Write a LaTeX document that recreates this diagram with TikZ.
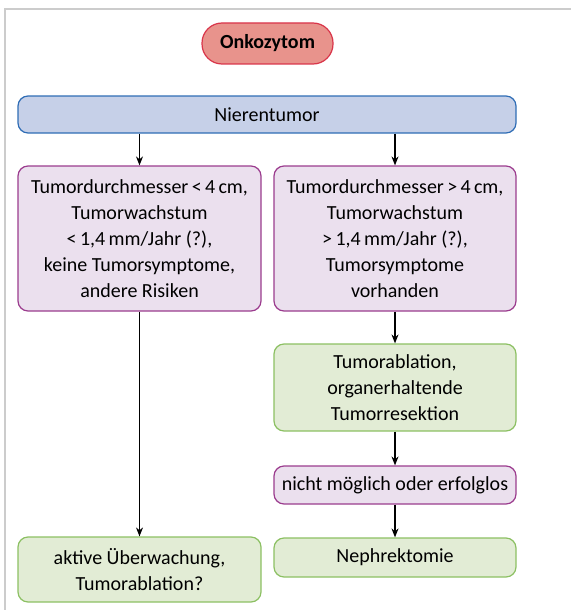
\documentclass[tikz,border=0pt]{standalone}
\usepackage{fontspec}
\setmainfont{Carlito}
\usetikzlibrary{arrows.meta}
\definecolor{rotrand}{HTML}{D9354A}
\definecolor{rotfill}{HTML}{E8938C}
\definecolor{blaurand}{HTML}{2F6DB5}
\definecolor{blaufill}{HTML}{C6D0E8}
\definecolor{lilarand}{HTML}{9B3C8E}
\definecolor{lilafill}{HTML}{EBE0EE}
\definecolor{gruenrand}{HTML}{8CC063}
\definecolor{gruenfill}{HTML}{E2ECD5}
\newcommand{\schrift}[0]{\fontsize{20}{26}\selectfont}
\tikzset{
	kasten/.style={draw, line width=1.2pt, rounded corners=10pt, align=center,
		inner sep=0pt, font=\schrift},
	titel/.style={kasten, draw=rotrand, fill=rotfill, rounded corners=20pt,
		font=\schrift\bfseries},
	blau/.style={kasten, draw=blaurand, fill=blaufill},
	lila/.style={kasten, draw=lilarand, fill=lilafill},
	gruen/.style={kasten, draw=gruenrand, fill=gruenfill},
	pfeil/.style={-{Stealth[length=9pt,width=7pt]}, line width=1.1pt}
}
\newcommand{\feld}[5]{\node[#1, minimum width=#4pt, minimum height=#5pt] (#2) at (#3)}

\begin{document}
\begin{tikzpicture}[x=1pt, y=-1pt]
	\useasboundingbox (0,0) rectangle (570,610);
	\draw[line width=2pt, black!20] (5,640) -- (5,9) -- (600,9);
	\feld{titel}{onko}{267.5,43.5}{131}{41} {Onkozytom};
	\feld{blau}{niere}{267,114.5}{498}{37} {Nierentumor};
	\feld{lila}{klein}{139.5,238.5}{243}{145}
		{Tumordurchmesser\,<\,4\,cm,\\ Tumorwachstum\\ <\,1,4\,mm/Jahr (?),\\
		 keine Tumorsymptome,\\ andere Risiken};
	\feld{lila}{gross}{395,238.5}{242}{145}
		{Tumordurchmesser\,>\,4\,cm,\\ Tumorwachstum\\ >\,1,4\,mm/Jahr (?),\\
		 Tumorsymptome\\ vorhanden};
	\feld{gruen}{ablation}{395,387.5}{242}{87}
		{Tumorablation,\\ organerhaltende\\ Tumorresektion};
	\feld{lila}{nicht}{395,485}{242}{38} {nicht möglich oder erfolglos};
	\feld{gruen}{nephr}{395,557.5}{242}{39} {Nephrektomie};
	\feld{gruen}{aktiv}{139.5,569.5}{243}{65}
		{aktive Überwachung,\\ Tumorablation?};
	\draw[pfeil] (niere.south -| klein.north) -- (klein.north);
	\draw[pfeil] (niere.south -| gross.north) -- (gross.north);
	\draw[pfeil] (klein) -- (aktiv);
	\draw[pfeil] (gross) -- (ablation);
	\draw[pfeil] (ablation) -- (nicht);
	\draw[pfeil] (nicht) -- (nephr);
\end{tikzpicture}
\end{document}
